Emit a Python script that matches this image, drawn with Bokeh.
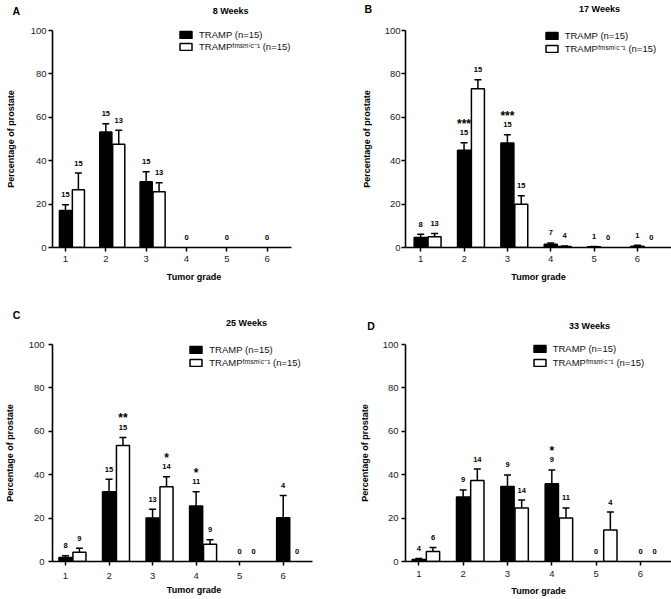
import numpy as np
from bokeh.plotting import figure
from bokeh.models import (Range1d, FixedTicker, Whisker, TeeHead, ColumnDataSource,
                          Label, Legend, LegendItem)
from bokeh.layouts import gridplot
from bokeh.embed import file_html
from bokeh.resources import INLINE
from bokeh.core.properties import value

# ---------------- data ----------------
grades = [1, 2, 3, 4, 5, 6]
y_ticks = [0, 20, 40, 60, 80, 100]
series_names = ["TRAMP (n=15)", "TRAMP\u1da0\u1d50\u02e2\u1d50\u2071\u1d9c\u207b\u00b9 (n=15)"]
x_label = "Tumor grade"
y_label = "Percentage of prostate"

# Panel A: 8 weeks
a_letter = "A"
a_title = "8 Weeks"
a_tramp = [17.0, 53.2, 30.3, 0, 0, 0]
a_tramp_sem = [2.7, 3.8, 4.6, 0, 0, 0]
a_ko = [26.6, 47.6, 25.7, 0, 0, 0]
a_ko_sem = [7.7, 6.4, 4.1, 0, 0, 0]
a_tramp_n = ["15", "15", "15", "0", "0", "0"]
a_ko_n = ["15", "13", "13", "", "", ""]
a_tramp_sig = ["", "", "", "", "", ""]
a_ko_sig = ["", "", "", "", "", ""]

# Panel B: 17 weeks
b_letter = "B"
b_title = "17 Weeks"
b_tramp = [4.6, 44.8, 48.1, 1.5, 0.3, 0.6]
b_tramp_sem = [1.5, 3.5, 3.9, 0.6, 0.2, 0.4]
b_ko = [4.9, 73.2, 19.9, 0.5, 0, 0]
b_ko_sem = [1.5, 4.1, 4.0, 0.2, 0, 0]
b_tramp_n = ["8", "15", "15", "7", "1", "1"]
b_ko_n = ["13", "15", "15", "4", "0", "0"]
b_tramp_sig = ["", "***", "***", "", "", ""]
b_ko_sig = ["", "", "", "", "", ""]

# Panel C: 25 weeks
c_letter = "C"
c_title = "25 Weeks"
c_tramp = [1.8, 32.2, 20.0, 25.6, 0, 20.2]
c_tramp_sem = [0.8, 5.7, 4.1, 6.5, 0, 10.2]
c_ko = [4.3, 53.4, 34.5, 8.0, 0, 0]
c_ko_sem = [1.8, 3.8, 4.6, 2.0, 0, 0]
c_tramp_n = ["8", "15", "13", "11", "0", "4"]
c_ko_n = ["9", "15", "14", "9", "0", "0"]
c_tramp_sig = ["", "", "", "*", "", ""]
c_ko_sig = ["", "**", "*", "", "", ""]

# Panel D: 33 weeks
d_letter = "D"
d_title = "33 Weeks"
d_tramp = [0.9, 29.7, 34.6, 35.8, 0, 0]
d_tramp_sem = [0.5, 3.3, 5.3, 6.4, 0, 0]
d_ko = [4.6, 37.3, 24.7, 20.1, 14.5, 0]
d_ko_sem = [1.8, 5.3, 3.6, 4.6, 8.3, 0]
d_tramp_n = ["4", "9", "9", "9", "0", "0"]
d_ko_n = ["6", "14", "14", "11", "4", "0"]
d_tramp_sig = ["", "", "", "*", "", ""]
d_ko_sig = ["", "", "", "", "", ""]

# ---------------- layout / style ----------------
FONT = "Liberation Sans"
BAR_W = 0.30
OFFSET = 0.32
FILLS = ["black", "white"]
ITEM_H = 12

# frame = (left, right, y100 pixel, y0 pixel); t1 = pixel of grade 1; sp = px per grade
layouts = {
    "A": dict(W=335, H=300, frame=(45, 335, 29, 247), t1=58.3, sp=41.34,
              axis_end=290, yls=(2, 12), xls=(4, 7),
              letter=(4, 9), title=(227.5, 9), legend=(171, 29, 0)),
    "B": dict(W=336, H=300, frame=(68, 336, 30, 247), t1=83.3, sp=43.68,
              axis_end=None, yls=(1, 10), xls=(4, 7),
              letter=(26.7, 8), title=(263.5, 8), legend=(206.7, 30.5, 0)),
    "C": dict(W=335, H=299, frame=(52, 335, 44, 262), t1=65.0, sp=43.54,
              axis_end=311.7, yls=(4, 11), xls=(7, 3),
              letter=(12.3, 14), title=(246, 22.3), legend=(188.3, 45.3, 1)),
    "D": dict(W=336, H=299, frame=(70, 336, 42, 261), t1=83.3, sp=44.34,
              axis_end=None, yls=(3, 10), xls=(5, 6),
              letter=(31.7, 23.3), title=(254, 23.3), legend=(196.7, 43.5, 1)),
}


def make_panel(key, letter, title, series):
    cfg = layouts[key]
    W, H = cfg["W"], cfg["H"]
    fl, fr, ft, fb = cfg["frame"]
    sp = cfg["sp"]
    x0 = 1 - (cfg["t1"] - fl) / sp
    x1 = x0 + (fr - fl) / sp
    sy = (fb - ft) / 100.0

    def to_data(lx, ly):
        return x0 + (lx - fl) / sp, (fb - ly) / sy

    p = figure(width=W, height=H, output_backend="svg", toolbar_location=None,
               x_range=Range1d(x0, x1), y_range=Range1d(0, 100),
               min_border_left=fl, min_border_right=W - fr,
               min_border_top=ft, min_border_bottom=H - fb)
    p.outline_line_color = None
    p.grid.visible = False
    p.background_fill_color = "white"
    p.border_fill_color = "white"

    p.xaxis.ticker = FixedTicker(ticks=grades)
    p.yaxis.ticker = FixedTicker(ticks=y_ticks)
    p.xaxis.axis_label = x_label
    p.yaxis.axis_label = y_label
    if cfg["axis_end"] is not None:
        p.xaxis.bounds = (x0, to_data(cfg["axis_end"], 0)[0])
    for ax in p.axis:
        ax.axis_line_width = 1.6
        ax.axis_line_color = "black"
        ax.major_tick_line_width = 1.5
        ax.major_tick_line_color = "black"
        ax.major_tick_in = 0
        ax.major_tick_out = 4
        ax.minor_tick_line_color = None
        ax.major_label_text_font = FONT
        ax.major_label_text_font_size = "9.5px"
        ax.major_label_text_color = "#222222"
        ax.axis_label_text_font = FONT
        ax.axis_label_text_font_size = "9px"
        ax.axis_label_text_font_style = "bold"
        ax.axis_label_text_color = "black"
    p.yaxis.major_label_standoff = cfg["yls"][0]
    p.yaxis.axis_label_standoff = cfg["yls"][1]
    p.xaxis.major_label_standoff = cfg["xls"][0]
    p.xaxis.axis_label_standoff = cfg["xls"][1]

    renderers = []
    for k, (means, sems, ns, sigs) in enumerate(series):
        xs = np.array(grades, dtype=float) + k * OFFSET
        m = np.array(means, dtype=float)
        s = np.array(sems, dtype=float)
        keep = m > 0
        src = ColumnDataSource(dict(x=xs[keep], top=m[keep]))
        r = p.vbar(x="x", top="top", bottom=0, width=BAR_W, source=src,
                   fill_color=FILLS[k], line_color="black", line_width=1.5)
        renderers.append(r)

        ek = s > 0
        esrc = ColumnDataSource(dict(x=xs[ek], lo=m[ek], hi=(m + s)[ek]))
        w = Whisker(base="x", lower="lo", upper="hi", source=esrc,
                    line_color="black", line_width=1.5, lower_head=None,
                    upper_head=TeeHead(size=7, line_color="black", line_width=1.5))
        p.add_layout(w)

        tops = m + s
        nk = np.array([t != "" for t in ns])
        nsrc = ColumnDataSource(dict(x=xs[nk], y=tops[nk],
                                     t=[t for t in ns if t != ""]))
        p.text(x="x", y="y", text="t", source=nsrc, y_offset=-10,
               text_align="center", text_baseline="middle",
               text_font=value(FONT), text_font_size="7.5px",
               text_font_style="bold", text_color="black")

        sk = np.array([t != "" for t in sigs])
        if sk.any():
            ssrc = ColumnDataSource(dict(x=xs[sk], y=tops[sk],
                                         t=[t for t in sigs if t != ""]))
            p.text(x="x", y="y", text="t", source=ssrc, y_offset=-19,
                   text_align="center", text_baseline="middle",
                   text_font=value(FONT), text_font_size="12px",
                   text_font_style="bold", text_color="black")

    # legend (inside the frame, at its top)
    lx, ly, lsp = cfg["legend"]
    hleg = 2 * ITEM_H + lsp
    legend = Legend(items=[LegendItem(label=series_names[0], renderers=[renderers[0]]),
                           LegendItem(label=series_names[1], renderers=[renderers[1]])],
                    location=(lx - fl, fb - (ly + hleg)), orientation="vertical",
                    padding=0, margin=0, spacing=lsp,
                    glyph_width=15, glyph_height=9, label_height=ITEM_H,
                    label_standoff=6, label_text_font=FONT,
                    label_text_font_size="9.5px", label_text_color="#111111",
                    border_line_color=None, background_fill_alpha=0)
    p.add_layout(legend, "center")

    # panel title and letter (in the top border panel so they are not clipped)
    tx, ty = to_data(*cfg["title"])
    p.add_layout(Label(x=tx, y=ty, text=title, text_align="center",
                       text_baseline="middle", text_font=FONT,
                       text_font_size="9px", text_font_style="bold",
                       text_color="black"), "above")
    lx2, ly2 = to_data(*cfg["letter"])
    p.add_layout(Label(x=lx2, y=ly2, text=letter, text_align="left",
                       text_baseline="middle", text_font=FONT,
                       text_font_size="10.5px", text_font_style="bold",
                       text_color="black"), "above")
    return p


pA = make_panel("A", a_letter, a_title,
                [(a_tramp, a_tramp_sem, a_tramp_n, a_tramp_sig),
                 (a_ko, a_ko_sem, a_ko_n, a_ko_sig)])
pB = make_panel("B", b_letter, b_title,
                [(b_tramp, b_tramp_sem, b_tramp_n, b_tramp_sig),
                 (b_ko, b_ko_sem, b_ko_n, b_ko_sig)])
pC = make_panel("C", c_letter, c_title,
                [(c_tramp, c_tramp_sem, c_tramp_n, c_tramp_sig),
                 (c_ko, c_ko_sem, c_ko_n, c_ko_sig)])
pD = make_panel("D", d_letter, d_title,
                [(d_tramp, d_tramp_sem, d_tramp_n, d_tramp_sig),
                 (d_ko, d_ko_sem, d_ko_n, d_ko_sig)])

grid = gridplot([[pA, pB], [pC, pD]], toolbar_location=None)

with open("out.html", "w") as f:
    f.write(file_html(grid, INLINE))
